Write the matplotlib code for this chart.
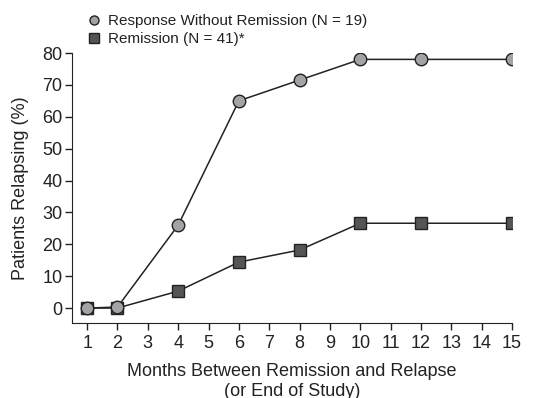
import matplotlib
matplotlib.use("Agg")
import matplotlib.pyplot as plt
from matplotlib.lines import Line2D

plt.rcParams['font.family'] = ['Liberation Sans', 'DejaVu Sans']

# data
months = [1, 2, 4, 6, 8, 10, 12, 15]
no_remission = [0, 0.3, 26, 65, 71.5, 78, 78, 78]
remission = [0, 0, 5.3, 14.4, 18.2, 26.6, 26.6, 26.6]
xticks = list(range(1, 16))
yticks = list(range(0, 81, 10))

fig = plt.figure(figsize=(5.42, 3.98), dpi=100)
ax = fig.add_axes([0.1328, 0.1884, 0.8118, 0.6784])

ax.plot(months, remission, color='#222222', lw=1.1, marker='s', ms=9,
        mfc='#555555', mec='#222222', mew=1, zorder=3)
ax.plot(months, no_remission, color='#222222', lw=1.1, marker='o', ms=9,
        mfc='#a3a3a6', mec='#222222', mew=1, zorder=4)

ax.set_xlim(0.5, 15)
ax.set_ylim(-4.7, 80)
ax.set_xticks(xticks)
ax.set_yticks(yticks)
ax.spines['top'].set_visible(False)
ax.spines['right'].set_visible(False)
ax.spines['left'].set_bounds(-4.7, 80)
ax.spines['bottom'].set_bounds(0.5, 15)
for s in ('left', 'bottom'):
    ax.spines[s].set_color('#222222')
ax.tick_params(direction='out', length=5, width=1, labelsize=13, pad=2,
               color='#222222', labelcolor='#222222')
ax.tick_params(axis='x', pad=3.5)
ax.set_ylabel('Patients Relapsing (%)', fontsize=13, labelpad=9.5, color='#222222')
ax.set_xlabel('Months Between Remission and Relapse\n(or End of Study)',
              fontsize=13, labelpad=8, linespacing=1.2, color='#222222')

handles = [
    Line2D([], [], ls='none', marker='o', ms=6.5, mfc='#a3a3a6', mec='#222222'),
    Line2D([], [], ls='none', marker='s', ms=6.5, mfc='#555555', mec='#222222'),
]
labels = ['Response Without Remission (N = 19)', 'Remission (N = 41)*']
ax.legend(handles, labels, loc='lower left', bbox_to_anchor=(0.04, 1.026),
          frameon=False, fontsize=11, handlelength=0.6, handletextpad=0.6,
          borderaxespad=0, labelspacing=0.25, borderpad=0,
          labelcolor='#222222')

fig.savefig('out.png', dpi=100)
